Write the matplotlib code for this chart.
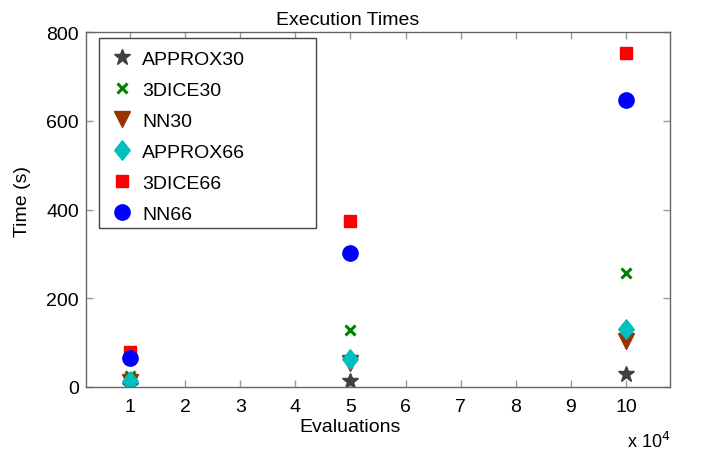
import matplotlib.pyplot as plt
from matplotlib.path import Path
from matplotlib.patches import Rectangle

plt.rcParams['font.family'] = ['Liberation Sans', 'DejaVu Sans']

evals = [10000, 50000, 100000]
labels = ['APPROX30', '3DICE30', 'NN30', 'APPROX66', '3DICE66', 'NN66']
approx30 = [2, 14, 29]
dice30 = [25, 128, 258]
nn30 = [12, 55, 103]
approx66 = [13, 63, 130]
dice66 = [79, 375, 753]
nn66 = [65, 303, 647]

diamond = Path([(0, 1), (0.8, 0), (0, -1), (-0.8, 0), (0, 1)],
               [Path.MOVETO, Path.LINETO, Path.LINETO, Path.LINETO, Path.CLOSEPOLY])

series = [approx30, dice30, nn30, approx66, dice66, nn66]
markers = ['*', 'x', 'v', diamond, 's', 'o']
colors = ['#404040', '#008000', '#993300', '#00BFBF', '#FF0000', '#0000FF']
sizes = [12, 7, 12, 14, 9, 11]
mews = [1, 2.2, 1, 1, 1, 1]

fs = 14

fig = plt.figure(figsize=(7.03, 4.52), dpi=100)
ax = fig.add_axes([86/703, 1 - 388/452, 584/703, 355/452])

for vals, lab, m, c, s, w in zip(series, labels, markers, colors, sizes, mews):
    ax.plot(evals, vals, marker=m, markersize=s, markeredgewidth=w, color=c,
            linestyle='none', label=lab)

ax.set_xlim(2000, 108000)
ax.set_ylim(0, 800)
ax.set_xticks([i * 10000 for i in range(1, 11)])
ax.set_xticklabels([str(i) for i in range(1, 11)])
ax.set_yticks([0, 200, 400, 600, 800])

for sp in ax.spines.values():
    sp.set_color('#666666')
    sp.set_linewidth(1)
ax.tick_params(direction='in', length=5, width=1, color='#999999', labelsize=fs,
               top=True, right=True)
ax.tick_params(axis='x', pad=8)
ax.tick_params(axis='y', pad=5)

ax.text((348 - 86) / 584, 1.012, 'Execution Times', transform=ax.transAxes,
        ha='center', va='bottom', fontsize=fs)
ax.set_ylabel('Time (s)', fontsize=fs)
ax.yaxis.set_label_coords(-(86 - 31) / 584, (388 - 202) / 355)
ax.set_xlabel('Evaluations', fontsize=fs)
ax.xaxis.set_label_coords((350 - 86) / 584, -(419 - 388) / 355)
fig.text(627/703, 1 - 448/452, r'x 10$^{4}$', fontsize=13, ha='left', va='baseline')

# legend frame drawn by hand (MATLAB leaves extra room on the right)
ax.add_patch(Rectangle((99/703, 1 - 229/452), 217/703, 190/452, transform=fig.transFigure,
                       facecolor='white', edgecolor='#444444', linewidth=1,
                       clip_on=False, zorder=4))
leg = ax.legend(loc='upper left', bbox_to_anchor=((110.5 - 86) / 584, (388 - 51) / 355),
                fontsize=fs, frameon=False, labelspacing=0.69, handletextpad=0.44,
                borderpad=0, borderaxespad=0, numpoints=1, handlelength=1.2)
leg.set_zorder(5)

fig.savefig('out.png', dpi=100)
